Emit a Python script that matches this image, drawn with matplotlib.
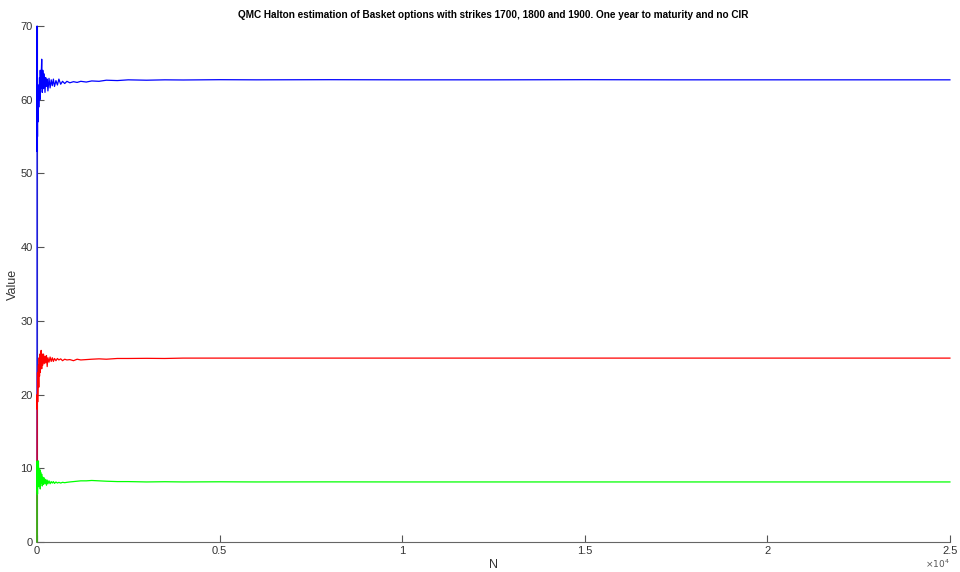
import matplotlib
matplotlib.use("Agg")
import matplotlib.pyplot as plt
from matplotlib.ticker import FuncFormatter

plt.rcParams['font.family'] = ['Liberation Sans', 'DejaVu Sans']
plt.rcParams['path.simplify'] = False

N = [1, 3, 6, 10, 15, 20, 30, 40, 50, 60, 70, 80, 90, 100, 115, 130, 145, 160, 180, 200,
     220, 240, 260, 280, 300, 330, 360, 390, 420, 450, 480, 520, 560, 600, 650, 700, 760,
     820, 900, 1000, 1100, 1200, 1350, 1500, 1700, 1900, 2200, 2500, 3000, 3500, 4000,
     5000, 6000, 8000, 10000, 12500, 15000, 17500, 20000, 22500, 25000]

blue_1700 = [0, 70, 53, 58, 55, 60, 57, 62, 59, 61, 63, 60, 64, 61.5, 63, 65.5, 61, 64, 61.5, 63.5,
             61, 63, 61.8, 62.8, 61.2, 62.9, 61.6, 62.7, 61.9, 62.8, 61.8, 62.6, 62.0, 62.8, 62.1, 62.5, 62.2,
             62.5, 62.3, 62.45, 62.35, 62.5, 62.4, 62.55, 62.5, 62.65, 62.6, 62.7, 62.65, 62.7, 62.68,
             62.72, 62.7, 62.72, 62.7, 62.7, 62.72, 62.7, 62.7, 62.7, 62.7]

red_1800 = [0, 12, 20, 18, 23, 19, 22, 24, 21, 25, 22.5, 25.5, 23, 25, 26, 23.5, 25.5, 24, 25.5, 24.2,
            25.2, 24.3, 25.3, 23.8, 25.0, 24.4, 25.1, 24.5, 25.0, 24.5, 24.9, 24.6, 24.9, 24.7, 24.85, 24.6, 24.8,
            24.7, 24.75, 24.6, 24.8, 24.7, 24.75, 24.8, 24.85, 24.8, 24.9, 24.9, 24.92, 24.9, 24.95,
            24.95, 24.95, 24.95, 24.95, 24.95, 24.95, 24.95, 24.95, 24.95, 24.95]

green_1900 = [0, 11, 7, 10.5, 6.5, 10, 8, 11, 7.5, 10, 8.5, 9.8, 7.2, 9.5, 8.0, 9.2, 7.6, 8.8, 7.8, 8.7,
              7.9, 8.5, 7.7, 8.4, 7.9, 8.3, 7.9, 8.2, 8.0, 8.2, 7.95, 8.15, 8.0, 8.1, 8.0, 8.1, 8.05,
              8.1, 8.15, 8.2, 8.25, 8.3, 8.3, 8.35, 8.3, 8.25, 8.2, 8.2, 8.15, 8.18, 8.15,
              8.17, 8.15, 8.16, 8.15, 8.15, 8.15, 8.15, 8.15, 8.15, 8.15]

x_ticks = [0, 5000, 10000, 15000, 20000, 25000]
y_ticks = [0, 10, 20, 30, 40, 50, 60, 70]

fig = plt.figure(figsize=(9.6, 5.72), dpi=100)
ax = fig.add_axes([0.0385, 0.0524, 0.951, 0.9021])

ax.plot(N, blue_1700, color=(0, 0, 1), lw=0.9, zorder=3, clip_on=False)
ax.plot(N, red_1800, color=(1, 0, 0), lw=0.9, zorder=3, clip_on=False)
ax.plot(N, green_1900, color=(0, 1, 0), lw=0.9, zorder=3, clip_on=False)

ax.set_xlim(0, 25000)
ax.set_ylim(0, 70)
ax.set_xticks(x_ticks)
ax.set_yticks(y_ticks)
ax.xaxis.set_major_formatter(FuncFormatter(lambda v, p: "%g" % (v / 1e4)))
ax.tick_params(direction='in', length=5, width=0.8, colors='#555555', labelsize=8,
               labelcolor='#333333', pad=3)
for s in ['top', 'right']:
    ax.spines[s].set_visible(False)
for s in ['left', 'bottom']:
    ax.spines[s].set_color('#666666')
    ax.spines[s].set_linewidth(0.8)

ax.set_xlabel('N', fontsize=9, color='#333333', labelpad=2)
ax.set_ylabel('Value', fontsize=9, color='#333333', labelpad=1)
ax.set_title('QMC Halton estimation of Basket options with strikes 1700, 1800 and 1900. One year to maturity and no CIR',
             fontsize=7.2, fontweight='bold', pad=6)
ax.text(1.0, -0.042, r'$\times10^4$', transform=ax.transAxes, ha='right', va='center',
        fontsize=6.5, color='#555555')

fig.savefig('out.png', dpi=100)
